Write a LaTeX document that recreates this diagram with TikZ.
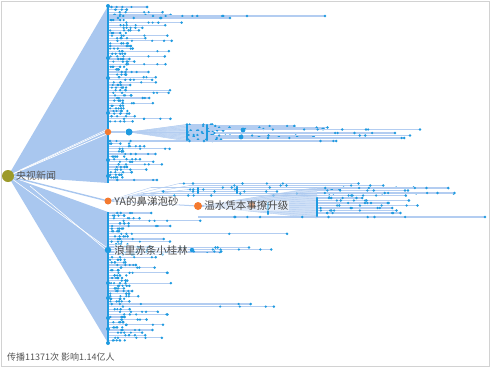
\documentclass[tikz,border=0pt]{standalone}
\usepackage{fontspec}
\newfontfamily\cjk{Noto Sans CJK SC}
\definecolor{fanblue}{HTML}{A9C7EF}
\definecolor{dotblue}{HTML}{1E9AE0}
\definecolor{rowblue}{HTML}{B3CDF1}
\definecolor{orangeN}{HTML}{F47A2F}
\definecolor{oliveN}{HTML}{9C9A2A}
\definecolor{txtgray}{HTML}{555555}
\pgfdeclarelayer{bg}
\pgfsetlayers{bg,main}
\newcommand\prow[3]{%
  \pgfmathsetmacro\rowr{rnd}%
  \pgfmathsetmacro\rowL{\rowr<0.5 ? 9+16*rnd : (\rowr<#3 ? 25+40*rnd : 60+#2*rnd)}%
  \draw[rowline] (108,#1) -- (108+\rowL,#1);%
  \fill[dotblue] (108+\rowL,#1) circle[radius=1.4pt];%
  \pgfmathsetmacro\rowa{110+(\rowL-2)*rnd}%
  \fill[dotblue] (\rowa,#1) circle[radius=1.3pt];%
  \pgfmathsetmacro\rowb{110+(\rowL-2)*rnd}%
  \fill[dotblue] (\rowb,#1) circle[radius=1.2pt];%
  \pgfmathsetmacro\rowd{110+(\rowL-2)*rnd}%
  \fill[dotblue] (\rowd,#1) circle[radius=1.2pt];%
  \pgfmathsetmacro\rowc{117+14*rnd}%
  \fill[dotblue] (\rowc,#1) circle[radius=1.3pt];%
}
\newcommand\crow[4]{%
  \draw[rowline] (#2,#1) -- (#3,#1);%
  \fill[dotblue] (#3,#1) circle[radius=1.4pt];%
  \foreach \k in {1,...,#4}{\pgfmathsetmacro\rowx{#2+(#3-#2)*rnd}\fill[dotblue] (\rowx,#1) circle[radius=1.3pt];}%
}
\begin{document}
\begin{tikzpicture}[x=1pt,y=-1pt,
  rowline/.style={draw=rowblue,line width=1.2pt},
  lbl/.style={font=\cjk\fontsize{10.5}{12}\selectfont,text=txtgray!85!black,anchor=west,inner sep=0.6pt,fill=white,fill opacity=0.5,text opacity=1},
  orangedot/.style={circle,fill=orangeN,inner sep=0pt}]
\useasboundingbox (0,0) rectangle (494,369);
\draw[gray!35,line width=0.8pt] (1,1) rectangle (489,366);
\pgfmathsetseed{11}
% nodes
\node[circle,fill=oliveN,minimum size=12pt,inner sep=0pt] (root) at (8,176) {};
\node[orangedot,minimum size=6.5pt] (A) at (108,132) {};
\node[circle,fill=dotblue,minimum size=7pt,inner sep=0pt] (A1) at (129,132) {};
\node[orangedot,minimum size=7pt] (B) at (108,201) {};
\node[orangedot,minimum size=8pt] (C) at (198,206) {};
\node[circle,fill=dotblue,minimum size=6.5pt,inner sep=0pt] (D) at (108,250) {};
\node[orangedot,minimum size=6pt] (C2) at (252,205) {};
\coordinate (ftop) at (108,6);
\coordinate (fmid) at (108,183);
\coordinate (flow) at (108,212);
\coordinate (fbot) at (108,343);
\begin{pgfonlayer}{bg}
% fans
\fill[fanblue] (root.center) -- (ftop) -- (fmid) -- cycle;
\fill[fanblue] (root.center) -- (flow) -- (fbot) -- cycle;
\draw[white,line width=0.7pt] (root.center) -- (108,130.5);
\draw[white,line width=0.7pt] (root.center) -- (108,133.5);
\draw[white,line width=0.5pt] (20,170) -- (108,129);
\draw[white,line width=0.6pt] (root.center) -- (108,248.5);
\draw[white,line width=0.6pt] (30,186) -- (108,251.5);
\draw[fanblue,line width=1.4pt] (root.center) -- (B.center);
% main rows
\foreach \yy in {7,9.6,...,124}{\prow{\yy}{100}{0.85}}
\foreach \yy in {141,143.6,...,182}{\prow{\yy}{80}{0.85}}
\foreach \yy in {213,215.6,...,343}{\prow{\yy}{120}{0.88}}
% long manual rows at top
\crow{16}{108}{325}{10}
\crow{18}{108}{230}{5}
% column
\draw[dotblue,line width=2.2pt] (ftop) -- (fmid);
\draw[dotblue,line width=2.2pt] (flow) -- (fbot);
\foreach \yy in {6,58,78,113,160,176,283,298,318,329,343}{\fill[dotblue] (108,\yy) circle[radius=2pt];}
% branch A
\draw[rowline] (A) -- (A1);
\fill[fanblue,opacity=0.6] (A1.center) -- (187,124) -- (187,141) -- cycle;
\foreach \yy in {124.5,126,...,141}{\draw[rowline,line width=0.4pt] (A1.center) -- (187,\yy);}
\foreach \yy in {124.5,126,...,141}{\pgfmathsetmacro\rowe{212+208*rnd^2}\crow{\yy}{187}{\rowe}{4}}
\crow{129.5}{207}{420}{6}
\crow{133}{207}{395}{5}
\crow{135.5}{207}{410}{5}
\draw[dotblue,line width=2.4pt,line cap=round] (187,125) -- (187,140);
\draw[dotblue,line width=2.4pt,line cap=round] (207,125) -- (207,140);
\fill[dotblue] (243,130) circle[radius=2.4pt];
\fill[dotblue] (241,137) circle[radius=2.4pt];
% branch B upper cluster
\foreach \yy in {183.5,185.5,...,197}{%
  \pgfmathsetmacro\rows{128+70*rnd}\pgfmathsetmacro\rowe{270+200*rnd}%
  \draw[rowline,line width=0.4pt] (B.center) -- (\rows,\yy);%
  \crow{\yy}{\rows}{\rowe}{5}}
\draw[dotblue,line width=2.2pt,line cap=round] (198,188) -- (198,193);
\draw[dotblue,line width=2.2pt,line cap=round] (237,187) -- (237,193);
% branch C
\draw[rowline,line width=1pt] (B) -- (C);
\fill[fanblue,opacity=0.55] (C.center) -- (317,187) -- (317,218) -- cycle;
\foreach \yy in {188,190.5,...,218}{\draw[rowline,line width=0.4pt] (C.center) -- (317,\yy);}
\foreach \yy in {188,190.5,...,215}{\pgfmathsetmacro\rowe{345+120*rnd}\crow{\yy}{317}{\rowe}{5}}
\crow{217}{198}{485}{9}
\draw[dotblue,line width=2.6pt,line cap=round] (317,198) -- (317,216);
\draw[dotblue,line width=2.2pt,line cap=round] (268,203) -- (268,214);
% branch D
\foreach \yy in {247.5,249.5,251.5}{\pgfmathsetmacro\rowe{200+90*rnd}\crow{\yy}{108}{\rowe}{5}}
\fill[dotblue] (192,250) circle[radius=2.2pt];
\end{pgfonlayer}
% labels
\node[font=\cjk\fontsize{10}{12}\selectfont,text=txtgray,anchor=west,inner sep=0pt] (rootl) at (16,176) {央视新闻};
\node[lbl] (Bl) at (113.5,201) {YA的鼻涕泡砂};
\node[lbl] (Cl) at (203.5,206) {温水凭本事撩升级};
\node[lbl] (Dl) at (113.5,250) {浪里赤条小桂林};
\node[font=\cjk\fontsize{9}{10}\selectfont,text=txtgray,anchor=west,inner sep=0pt] (foot) at (7,357) {传播11371次 影响1.14亿人};
\end{tikzpicture}
\end{document}
